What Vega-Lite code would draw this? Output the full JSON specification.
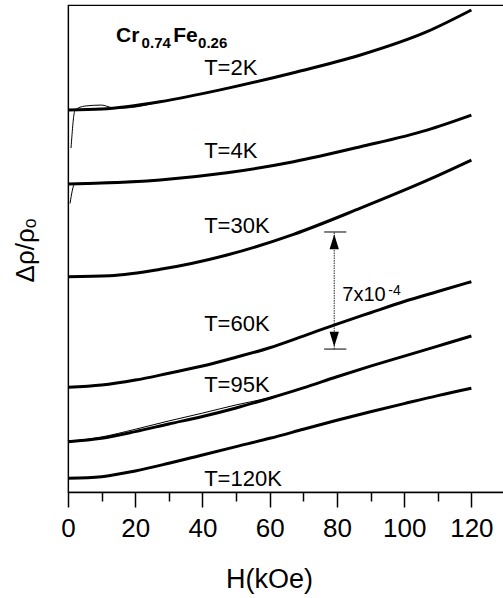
{
  "$schema": "https://vega.github.io/schema/vega-lite/v6.json",
  "width": 437,
  "height": 487,
  "autosize": {"type": "none"},
  "padding": {"left": 68, "top": 5, "right": 0, "bottom": 106},
  "config": {
    "view": {"stroke": "#000000", "strokeWidth": 1.2},
    "font": "Liberation Sans",
    "text": {"font": "Liberation Sans", "color": "#000000"}
  },
  "datasets": {
    "thick": [
      {"T": "2K", "H": 0, "v": 22.90}, {"T": "2K", "H": 10, "v": 22.96}, {"T": "2K", "H": 27.4, "v": 23.40}, {"T": "2K", "H": 47.3, "v": 24.20}, {"T": "2K", "H": 67.1, "v": 25.14}, {"T": "2K", "H": 87, "v": 26.20}, {"T": "2K", "H": 106.8, "v": 27.60}, {"T": "2K", "H": 120, "v": 28.90},
      {"T": "4K", "H": 0, "v": 18.47}, {"T": "4K", "H": 10, "v": 18.52}, {"T": "4K", "H": 27.4, "v": 18.71}, {"T": "4K", "H": 47.3, "v": 19.14}, {"T": "4K", "H": 67.1, "v": 19.80}, {"T": "4K", "H": 87, "v": 20.70}, {"T": "4K", "H": 106.8, "v": 21.70}, {"T": "4K", "H": 120, "v": 22.60},
      {"T": "30K", "H": 0, "v": 12.91}, {"T": "30K", "H": 12.4, "v": 12.97}, {"T": "30K", "H": 27.4, "v": 13.35}, {"T": "30K", "H": 47.3, "v": 14.21}, {"T": "30K", "H": 67.1, "v": 15.45}, {"T": "30K", "H": 87, "v": 17.02}, {"T": "30K", "H": 106.8, "v": 18.68}, {"T": "30K", "H": 120, "v": 19.90},
      {"T": "60K", "H": 0, "v": 6.28}, {"T": "60K", "H": 10, "v": 6.41}, {"T": "60K", "H": 20, "v": 6.71}, {"T": "60K", "H": 30, "v": 7.12}, {"T": "60K", "H": 40, "v": 7.55}, {"T": "60K", "H": 50, "v": 8.08}, {"T": "60K", "H": 60, "v": 8.65}, {"T": "60K", "H": 70, "v": 9.35}, {"T": "60K", "H": 80, "v": 10.07}, {"T": "60K", "H": 90, "v": 10.75}, {"T": "60K", "H": 100, "v": 11.42}, {"T": "60K", "H": 110, "v": 12.02}, {"T": "60K", "H": 120, "v": 12.61},
      {"T": "95K", "H": 0, "v": 3.02}, {"T": "95K", "H": 10, "v": 3.22}, {"T": "95K", "H": 20, "v": 3.62}, {"T": "95K", "H": 30, "v": 4.08}, {"T": "95K", "H": 40, "v": 4.53}, {"T": "95K", "H": 50, "v": 5.04}, {"T": "95K", "H": 60, "v": 5.62}, {"T": "95K", "H": 70, "v": 6.24}, {"T": "95K", "H": 80, "v": 6.91}, {"T": "95K", "H": 90, "v": 7.55}, {"T": "95K", "H": 100, "v": 8.15}, {"T": "95K", "H": 110, "v": 8.75}, {"T": "95K", "H": 120, "v": 9.35},
      {"T": "120K", "H": 0, "v": 0.82}, {"T": "120K", "H": 10, "v": 0.92}, {"T": "120K", "H": 20, "v": 1.26}, {"T": "120K", "H": 30, "v": 1.72}, {"T": "120K", "H": 40, "v": 2.22}, {"T": "120K", "H": 50, "v": 2.72}, {"T": "120K", "H": 60, "v": 3.22}, {"T": "120K", "H": 70, "v": 3.76}, {"T": "120K", "H": 80, "v": 4.30}, {"T": "120K", "H": 90, "v": 4.81}, {"T": "120K", "H": 100, "v": 5.30}, {"T": "120K", "H": 110, "v": 5.78}, {"T": "120K", "H": 120, "v": 6.22}
    ],
    "thin": [
      {"T": "2K", "H": 0.9, "v": 20.62}, {"T": "2K", "H": 2.1, "v": 22.90}, {"T": "2K", "H": 5, "v": 23.14}, {"T": "2K", "H": 10, "v": 23.20}, {"T": "2K", "H": 13, "v": 23.05}, {"T": "2K", "H": 16, "v": 23.02}, {"T": "2K", "H": 27.4, "v": 23.40},
      {"T": "4K", "H": 0.6, "v": 17.3}, {"T": "4K", "H": 2, "v": 18.47}, {"T": "4K", "H": 10, "v": 18.56}, {"T": "4K", "H": 20, "v": 18.64}, {"T": "4K", "H": 27.4, "v": 18.71},
      {"T": "95K", "H": 0, "v": 3.02}, {"T": "95K", "H": 10, "v": 3.30}, {"T": "95K", "H": 20, "v": 3.76}, {"T": "95K", "H": 30, "v": 4.26}, {"T": "95K", "H": 40, "v": 4.73}, {"T": "95K", "H": 50, "v": 5.22}, {"T": "95K", "H": 57, "v": 5.52}, {"T": "95K", "H": 62, "v": 5.74}
    ],
    "labels": [
      {"label": "T=2K", "H": 40.5, "v": 25.0},
      {"label": "T=4K", "H": 40.5, "v": 20.05},
      {"label": "T=30K", "H": 40.5, "v": 15.55},
      {"label": "T=60K", "H": 40.5, "v": 9.65},
      {"label": "T=95K", "H": 40.5, "v": 6.01},
      {"label": "T=120K", "H": 40.5, "v": 0.34}
    ],
    "formulaMain": [
      {"t": "Cr", "H": 14.3, "v": 27.0},
      {"t": "Fe", "H": 31.3, "v": 27.0}
    ],
    "formulaSub": [
      {"t": "0.74", "H": 21.9, "v": 26.6},
      {"t": "0.26", "H": 38.7, "v": 26.6}
    ],
    "bar": [{"H": 79.2, "lo": 8.57, "hi": 15.59, "capL": 76.2, "capR": 82.8, "arrowUp": 15.0, "arrowDown": 9.16}],
    "barLabel": [{"t": "7x10", "H": 81.6, "v": 11.47}],
    "barSup": [{"t": "-4", "H": 95.3, "v": 11.81}]
  },
  "layer": [
    {
      "data": {"name": "thick"},
      "mark": {"type": "line", "color": "#000000", "strokeWidth": 3, "interpolate": "monotone"},
      "encoding": {
        "x": {"field": "H", "type": "quantitative", "scale": {"domain": [0, 130], "nice": false},
          "axis": {"orient": "bottom", "values": [0, 20, 40, 60, 80, 100, 120], "tickSize": 15, "tickWidth": 1.5, "tickColor": "#000000",
            "domainColor": "#000000", "domainWidth": 1.5, "grid": false, "labelFontSize": 26, "labelColor": "#000000",
            "labelPadding": 8, "labelFlush": false, "labelFont": "Liberation Sans",
            "title": "H(kOe)", "titleFontSize": 27, "titleFontWeight": "normal", "titleColor": "#000000", "titleFont": "Liberation Sans",
            "titleX": 201, "titleY": 95, "titleBaseline": "alphabetic", "titleAlign": "center"}},
        "y": {"field": "v", "type": "quantitative", "scale": {"domain": [0, 29.2], "nice": false},
          "axis": {"ticks": false, "labels": false, "grid": false, "domainColor": "#000000", "domainWidth": 1.2,
            "title": "Δρ/ρₒ", "titleFontSize": 26, "titleFontWeight": "normal", "titleColor": "#000000", "titleFont": "Liberation Sans",
            "titleX": -35, "titleY": 245, "titleAngle": -90, "titleBaseline": "alphabetic", "titleAlign": "center"}},
        "detail": {"field": "T"}
      }
    },
    {
      "data": {"name": "thin"},
      "mark": {"type": "line", "color": "#000000", "strokeWidth": 1, "interpolate": "monotone"},
      "encoding": {
        "x": {"field": "H", "type": "quantitative",
          "axis": {"orient": "bottom", "values": [10, 30, 50, 70, 90, 110], "tickSize": 9, "tickWidth": 1.5, "tickColor": "#000000",
            "labels": false, "domain": false, "grid": false, "title": null}},
        "y": {"field": "v", "type": "quantitative"},
        "detail": {"field": "T"}
      }
    },
    {
      "data": {"name": "labels"},
      "mark": {"type": "text", "align": "left", "baseline": "alphabetic", "fontSize": 22},
      "encoding": {
        "x": {"field": "H", "type": "quantitative", "axis": null},
        "y": {"field": "v", "type": "quantitative"},
        "text": {"field": "label"}
      }
    },
    {
      "data": {"name": "formulaMain"},
      "mark": {"type": "text", "align": "left", "baseline": "alphabetic", "fontSize": 21, "fontWeight": "bold"},
      "encoding": {
        "x": {"field": "H", "type": "quantitative", "axis": null},
        "y": {"field": "v", "type": "quantitative"},
        "text": {"field": "t"}
      }
    },
    {
      "data": {"name": "formulaSub"},
      "mark": {"type": "text", "align": "left", "baseline": "alphabetic", "fontSize": 15, "fontWeight": "bold"},
      "encoding": {
        "x": {"field": "H", "type": "quantitative", "axis": null},
        "y": {"field": "v", "type": "quantitative"},
        "text": {"field": "t"}
      }
    },
    {
      "data": {"name": "bar"},
      "mark": {"type": "rule", "color": "#222222", "strokeWidth": 1, "strokeDash": [1.5, 1]},
      "encoding": {
        "x": {"field": "H", "type": "quantitative", "axis": null},
        "y": {"field": "lo", "type": "quantitative"},
        "y2": {"field": "hi"}
      }
    },
    {
      "data": {"name": "bar"},
      "mark": {"type": "rule", "color": "#000000", "strokeWidth": 1},
      "encoding": {
        "x": {"field": "capL", "type": "quantitative", "axis": null},
        "x2": {"field": "capR"},
        "y": {"field": "hi", "type": "quantitative"}
      }
    },
    {
      "data": {"name": "bar"},
      "mark": {"type": "rule", "color": "#000000", "strokeWidth": 1},
      "encoding": {
        "x": {"field": "capL", "type": "quantitative", "axis": null},
        "x2": {"field": "capR"},
        "y": {"field": "lo", "type": "quantitative"}
      }
    },
    {
      "data": {"name": "bar"},
      "mark": {"type": "point", "filled": true, "color": "#000000", "opacity": 1, "size": 225, "shape": "M0,-1L0.62,1L-0.62,1Z"},
      "encoding": {
        "x": {"field": "H", "type": "quantitative", "axis": null},
        "y": {"field": "arrowUp", "type": "quantitative"}
      }
    },
    {
      "data": {"name": "bar"},
      "mark": {"type": "point", "filled": true, "color": "#000000", "opacity": 1, "size": 225, "shape": "M0,1L0.62,-1L-0.62,-1Z"},
      "encoding": {
        "x": {"field": "H", "type": "quantitative", "axis": null},
        "y": {"field": "arrowDown", "type": "quantitative"}
      }
    },
    {
      "data": {"name": "barLabel"},
      "mark": {"type": "text", "align": "left", "baseline": "alphabetic", "fontSize": 20},
      "encoding": {
        "x": {"field": "H", "type": "quantitative", "axis": null},
        "y": {"field": "v", "type": "quantitative"},
        "text": {"field": "t"}
      }
    },
    {
      "data": {"name": "barSup"},
      "mark": {"type": "text", "align": "left", "baseline": "alphabetic", "fontSize": 14},
      "encoding": {
        "x": {"field": "H", "type": "quantitative", "axis": null},
        "y": {"field": "v", "type": "quantitative"},
        "text": {"field": "t"}
      }
    }
  ],
  "resolve": {"axis": {"x": "independent"}}
}
